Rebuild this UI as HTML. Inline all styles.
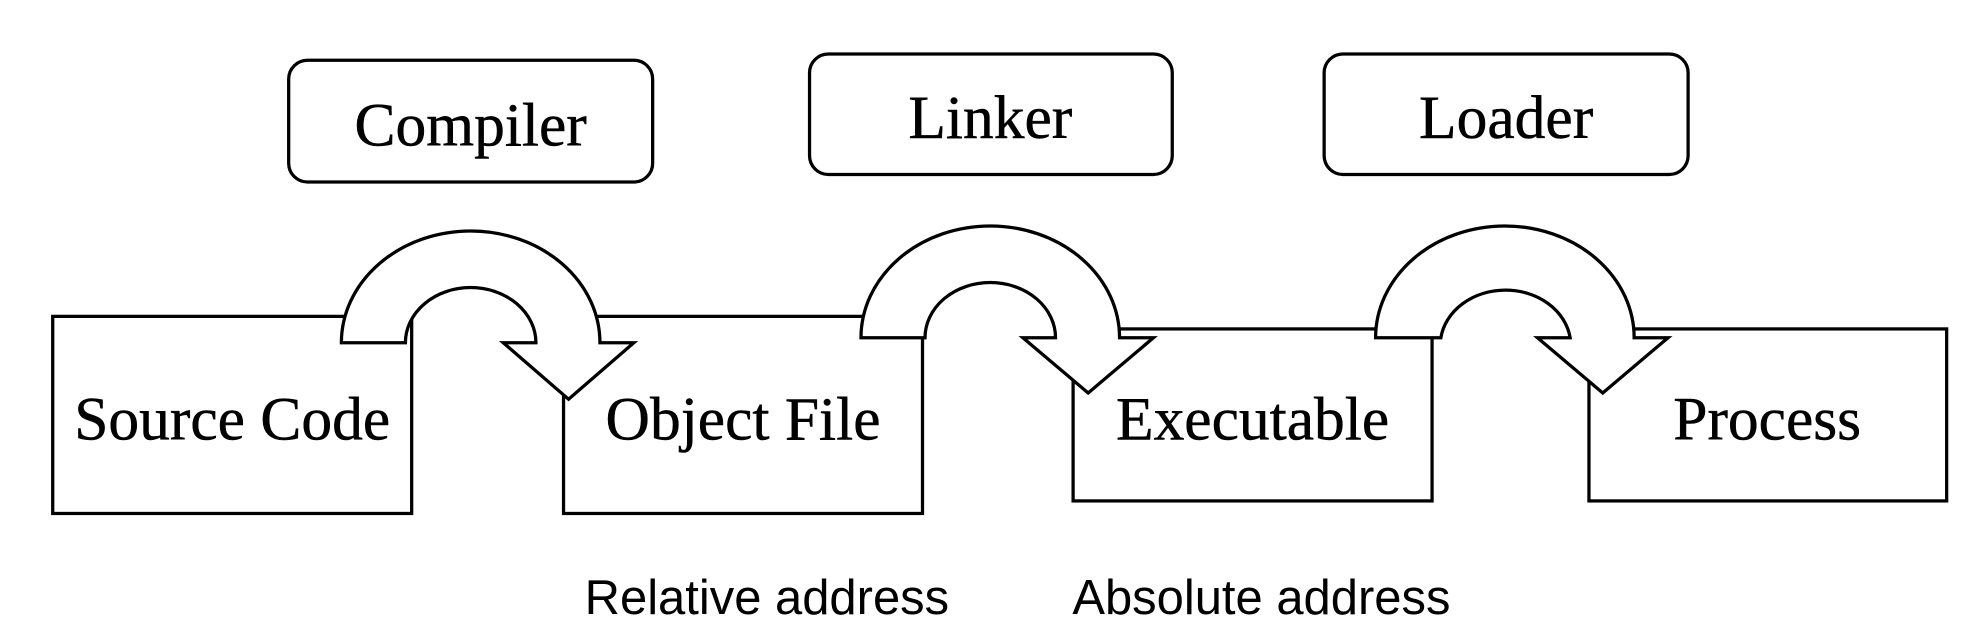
<!DOCTYPE html>
<html><head><style>html,body{margin:0;padding:0;background:#fff;}svg{display:block}</style></head>
<body>
<svg width="1968" height="634" viewBox="0 0 1568 505" preserveAspectRatio="none" xmlns="http://www.w3.org/2000/svg">
<g fill="#fff" stroke="#000" stroke-width="2.6">
<rect x="230" y="48" width="290" height="97" rx="15"/>
<rect x="645" y="43" width="289" height="96" rx="15"/>
<rect x="1055" y="43" width="290" height="96" rx="15"/>
<rect x="42" y="252" width="286" height="157"/>
<rect x="449" y="252" width="286" height="157"/>
<rect x="855" y="262" width="286" height="137"/>
<rect x="1266" y="262" width="285" height="137"/>
<path d="M272,273 A103,89 0 0 1 478,273 L505,273 L453,318 L401,273 L427,273 A52,44 0 0 0 323,273 Z"/>
<path d="M686,269 A103,89 0 0 1 892,269 L919,269 L867,313 L815,269 L841,269 A52,44 0 0 0 737,269 Z"/>
<path d="M1096,269 A103,89 0 0 1 1302,269 L1329,269 L1277,313 L1225,269 L1251,269 A52,44 0 0 0 1148,269 Z"/>
</g>
<g font-family="Liberation Serif, serif" font-size="49" text-anchor="middle" fill="#000" stroke="#000" stroke-width="0.4">
<text x="375" y="116">Compiler</text>
<text x="789" y="110">Linker</text>
<text x="1200" y="110">Loader</text>
<text x="185" y="350">Source Code</text>
<text x="592" y="350">Object File</text>
<text x="998" y="350">Executable</text>
<text x="1408" y="350">Process</text>
</g>
<g font-family="Liberation Sans, sans-serif" font-size="39" text-anchor="middle" fill="#000">
<text x="611" y="489">Relative address</text>
<text x="1005" y="489">Absolute address</text>
</g>
</svg>
</body></html>
